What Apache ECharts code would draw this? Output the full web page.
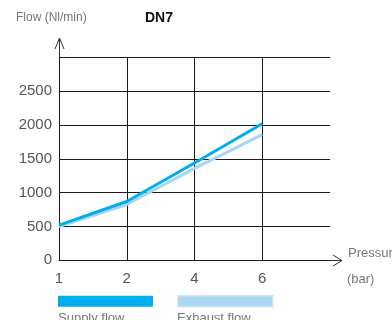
<!DOCTYPE html>
<html>
<head>
<meta charset="utf-8">
<script src="https://cdn.jsdelivr.net/npm/echarts@6/dist/echarts.min.js"></script>
<style>
  html, body { margin: 0; padding: 0; background: #fff; }
  #chart { width: 392px; height: 320px; }
</style>
</head>
<body>
<div id="chart"></div>
<script>
// Pressure steps (bar); the trailing blank slot leaves room on the right of the grid
const pressures = ['1', '2', '4', '6', ''];
// Flow in Nl/min for each pressure step
const supplyFlow = [520, 870, 1440, 2020];
const exhaustFlow = [500, 825, 1360, 1860];
const flowTicks = [0, 500, 1000, 1500, 2000, 2500, 3000];

const FONT = 'Liberation Sans';
const GREY = '#555';
const LINE = '#1a1a1a';
const SUPPLY = '#00aeef';
const EXHAUST = '#a9d4f2';

const chart = echarts.init(document.getElementById('chart'), null, { renderer: 'canvas' });

const option = {
  animation: false,
  backgroundColor: '#fff',
  title: [
    { text: 'Flow (Nl/min)', left: 16, top: 12, padding: 0,
      textStyle: { fontFamily: FONT, fontSize: 12, fontWeight: 'normal', color: '#777' } },
    { text: 'DN7', left: 145, top: 11, padding: 0,
      textStyle: { fontFamily: FONT, fontSize: 14, fontWeight: 'bold', color: '#111' } }
  ],
  grid: { left: 59, right: 62, top: 57.5, bottom: 59.7, containLabel: false },
  legend: {
    left: 58, top: 295, padding: 0, itemWidth: 95, itemHeight: 11, itemGap: 24,
    icon: 'rect', formatter: () => '', selectedMode: false,
    data: [
      { name: 'Supply flow', itemStyle: { color: SUPPLY } },
      { name: 'Exhaust flow', itemStyle: { color: '#acd8f4', borderColor: '#cde8f9', borderWidth: 1.5 } }
    ]
  },
  xAxis: {
    type: 'category', data: pressures, boundaryGap: false,
    axisLine: { lineStyle: { color: LINE, width: 1 } },
    axisTick: { show: false },
    axisLabel: { fontFamily: FONT, fontSize: 15, color: GREY, margin: 11 },
    splitLine: { show: true, interval: (i) => i > 0 && i < 4, lineStyle: { color: LINE, width: 1 } }
  },
  yAxis: {
    type: 'value', min: flowTicks[0], max: flowTicks[flowTicks.length - 1], interval: 500,
    axisLine: { show: true, lineStyle: { color: LINE, width: 1 } },
    axisTick: { show: false },
    axisLabel: { fontFamily: FONT, fontSize: 15, color: GREY, margin: 7,
      formatter: (v) => (v === 3000 ? '' : String(v)) },
    splitLine: { show: true, lineStyle: { color: LINE, width: 1 } }
  },
  series: [
    { name: 'Exhaust flow', type: 'line', data: exhaustFlow, symbol: 'none', z: 2,
      lineStyle: { color: EXHAUST, width: 3 }, itemStyle: { color: EXHAUST } },
    { name: 'Supply flow', type: 'line', data: supplyFlow, symbol: 'none', z: 3,
      lineStyle: { color: SUPPLY, width: 3 }, itemStyle: { color: SUPPLY } }
  ]
};
chart.setOption(option);

// Axis arrows and captions placed from the axes' own pixel positions
const origin = chart.convertToPixel({ xAxisIndex: 0, yAxisIndex: 0 }, [0, 0]);
const topY = chart.convertToPixel({ yAxisIndex: 0 }, 3000);
const rightX = chart.convertToPixel({ xAxisIndex: 0 }, 4);
const ox = Math.round(origin[0]) + 0.5;
const oy = Math.round(origin[1]) + 0.5;
const arrowStyle = { stroke: '#333', lineWidth: 1, fill: null };
const tipY = topY - 19.5;
const tipX = rightX + 12;

chart.setOption({
  graphic: [
    { type: 'polyline', shape: { points: [[ox, topY], [ox, tipY]] }, style: arrowStyle },
    { type: 'polyline', shape: { points: [[ox - 4.5, tipY + 11], [ox, tipY], [ox + 4.5, tipY + 11]] }, style: arrowStyle },
    { type: 'polyline', shape: { points: [[rightX, oy], [tipX, oy]] }, style: arrowStyle },
    { type: 'polyline', shape: { points: [[tipX - 9, oy - 5.5], [tipX, oy], [tipX - 9, oy + 5.5]] }, style: arrowStyle },
    { type: 'text', left: tipX + 6, top: oy - 14,
      style: { text: 'Pressure', fontFamily: FONT, fontSize: 13, fill: '#777' } },
    { type: 'text', left: tipX + 5, top: oy + 12,
      style: { text: '(bar)', fontFamily: FONT, fontSize: 13, fill: '#777' } },
    { type: 'text', left: 58, top: 312,
      style: { text: 'Supply flow', fontFamily: FONT, fontSize: 13, fill: '#777' } },
    { type: 'text', left: 177, top: 312,
      style: { text: 'Exhaust flow', fontFamily: FONT, fontSize: 13, fill: '#777' } }
  ]
});
</script>
</body>
</html>
